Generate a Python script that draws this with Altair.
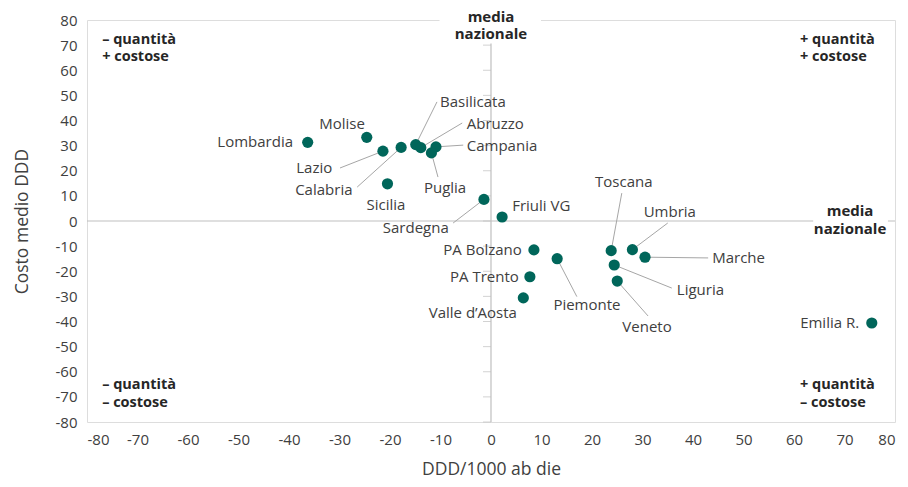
import altair as alt
import pandas as pd

# Regions
regions = ["Lombardia", "Molise", "Lazio", "Calabria", "Basilicata", "Abruzzo",
           "Campania", "Puglia", "Sicilia", "Sardegna", "Friuli VG", "PA Bolzano",
           "PA Trento", "Valle d\u2019Aosta", "Piemonte", "Toscana", "Umbria",
           "Marche", "Liguria", "Veneto", "Emilia R."]
ddd = [-36.3, -24.6, -21.4, -17.8, -14.9, -13.9, -10.9, -11.8, -20.5, -1.4, 2.2,
       8.5, 7.7, 6.4, 13.1, 23.8, 28.0, 30.5, 24.4, 25.0, 75.4]
costo = [31.3, 33.3, 27.8, 29.3, 30.4, 29.2, 29.5, 27.1, 14.8, 8.6, 1.6,
         -11.5, -22.2, -30.6, -15.0, -11.8, -11.4, -14.4, -17.5, -23.9, -40.6]

# Label anchors (data units) and alignment
lab_x = [-39.2, -29.5, -35.0, -33.1, -10.1, -4.8, -4.8, -9.1, -20.8, -14.9, 4.2,
         6.1, 5.5, -3.6, 19.0, 26.3, 35.4, 43.8, 36.8, 30.9, 72.9]
lab_y = [31.4, 38.6, 21.1, 12.3, 47.4, 38.6, 29.9, 13.1, 6.4, -2.8, 6.0,
         -11.5, -22.3, -36.6, -33.4, 15.5, 3.6, -14.7, -27.5, -42.2, -40.6]
lab_align = ["right", "center", "center", "center", "left", "left", "left",
             "center", "center", "center", "left", "right", "right", "center",
             "center", "center", "center", "left", "left", "center", "right"]

# Leader lines: region -> end point
leader_regions = ["Basilicata", "Abruzzo", "Campania", "Lazio", "Calabria", "Puglia",
                  "Sardegna", "Piemonte", "Toscana", "Umbria", "Marche", "Liguria", "Veneto"]
leader_x2 = [-10.7, -5.7, -5.5, -29.9, -26.5, -10.5, -7.5, 17.0, 25.9, 35.0, 43.0, 35.8, 31.1]
leader_y2 = [47.4, 39.0, 30.2, 21.1, 13.5, 17.5, -0.8, -30.1, 11.1, -0.8, -14.7, -26.7, -37.8]

# Quadrant annotations
quad_text = ["\u2013 quantit\u00e0", "+ costose", "+ quantit\u00e0", "+ costose",
             "\u2013 quantit\u00e0", "\u2013 costose", "+ quantit\u00e0", "\u2013 costose"]
quad_x = [-77.0, -77.0, 61.2, 61.2, -77.0, -77.0, 61.2, 61.2]
quad_y = [72.0, 65.3, 72.0, 65.3, -65.3, -72.4, -65.3, -72.4]

ticks_y = list(range(-80, 81, 10))
axis_vals = list(range(-80, 81, 10))

FONT = "Open Sans"
TXT = "#404040"

df = pd.DataFrame({"region": regions, "x": ddd, "y": costo,
                   "lx": lab_x, "ly": lab_y, "align": lab_align})
pos = dict(zip(regions, zip(ddd, costo)))
dl = pd.DataFrame({"x": [pos[r][0] for r in leader_regions],
                   "y": [pos[r][1] for r in leader_regions],
                   "x2": leader_x2, "y2": leader_y2})
dq = pd.DataFrame({"t": quad_text, "x": quad_x, "y": quad_y})
dt = pd.DataFrame({"y": ticks_y, "x": [0] * len(ticks_y)})

xs = alt.Scale(domain=[-80, 80], nice=False, zero=False)
ys = alt.Scale(domain=[-80, 80], nice=False, zero=False)

xaxis = alt.Axis(values=axis_vals, grid=False, ticks=False, domain=False,
                 labelExpr="'' + datum.value", labelOverlap=False,
                 labelFont=FONT, labelFontSize=15, labelColor=TXT, labelPadding=10,
                 title="DDD/1000 ab die", titleFont=FONT, titleFontSize=17.5,
                 titleFontWeight="normal", titleColor=TXT, titlePadding=13)
yaxis = alt.Axis(values=axis_vals, grid=False, ticks=False, domain=False,
                 labelExpr="'' + datum.value", labelOverlap=False,
                 labelFont=FONT, labelFontSize=15, labelColor=TXT, labelPadding=10,
                 title="Costo medio DDD", titleFont=FONT, titleFontSize=17.5,
                 titleFontWeight="normal", titleColor=TXT, titlePadding=24)


def X(f):
    return alt.X(f, scale=xs, axis=xaxis)


def Y(f):
    return alt.Y(f, scale=ys, axis=yaxis)


base = alt.Chart(df)

zero_v = alt.Chart(pd.DataFrame({"x": [0]})).mark_rule(color="#bfbfbf", strokeWidth=1.2).encode(
    x=X("x:Q"))
zero_h = alt.Chart(pd.DataFrame({"y": [0]})).mark_rule(color="#bfbfbf", strokeWidth=1.2).encode(
    y=Y("y:Q"))
vticks = alt.Chart(dt).mark_tick(color="#bfbfbf", size=8, thickness=1, orient="horizontal", xOffset=-4).encode(
    x=X("x:Q"), y=Y("y:Q"))

# white backgrounds for "media nazionale" labels
bg = alt.Chart(pd.DataFrame({"x": [-10.2, 63.8], "x2": [9.9, 78.6],
                             "y": [70.6, -7.5], "y2": [90.0, 7.5]})).mark_rect(
    color="white", clip=False).encode(
    x=X("x:Q"), x2="x2:Q", y=Y("y:Q"), y2="y2:Q")

media = alt.Chart(pd.DataFrame({"t": ["media", "nazionale", "media", "nazionale"],
                                "x": [0, 0, 71.1, 71.1],
                                "y": [81.3, 74.5, 4.0, -3.2]})).mark_text(
    font=FONT, fontSize=15, fontWeight="bold", color="#262626", align="center",
    baseline="middle").encode(
    x=X("x:Q"), y=Y("y:Q"), text="t:N")

leaders = alt.Chart(dl).mark_rule(color="#a6a6a6", strokeWidth=1).encode(
    x=X("x:Q"), y=Y("y:Q"), x2="x2:Q", y2="y2:Q")

points = base.mark_circle(size=125, color="#00665a", opacity=1).encode(
    x=X("x:Q"), y=Y("y:Q"))


def labels(al):
    return base.transform_filter(alt.datum.align == al).mark_text(
        font=FONT, fontSize=15, color=TXT, align=al, baseline="middle").encode(
        x=X("lx:Q"), y=Y("ly:Q"), text="region:N")


quad = alt.Chart(dq).mark_text(font=FONT, fontSize=14.5, fontWeight="bold", color="#262626",
                               align="left", baseline="middle").encode(
    x=X("x:Q"), y=Y("y:Q"), text="t:N")

chart = alt.layer(zero_v, zero_h, vticks, leaders, bg, points,
                  labels("left"), labels("right"), labels("center"), quad, media).properties(
    width=808, height=402,
    autosize=alt.AutoSizeParams(type="none"),
    padding={"left": 79, "top": 12, "right": 5, "bottom": 57},
).configure_view(stroke="#bfbfbf", strokeWidth=1.2).configure(background="white")

chart.save("out.html", embed_options={"renderer": "svg", "actions": False})
